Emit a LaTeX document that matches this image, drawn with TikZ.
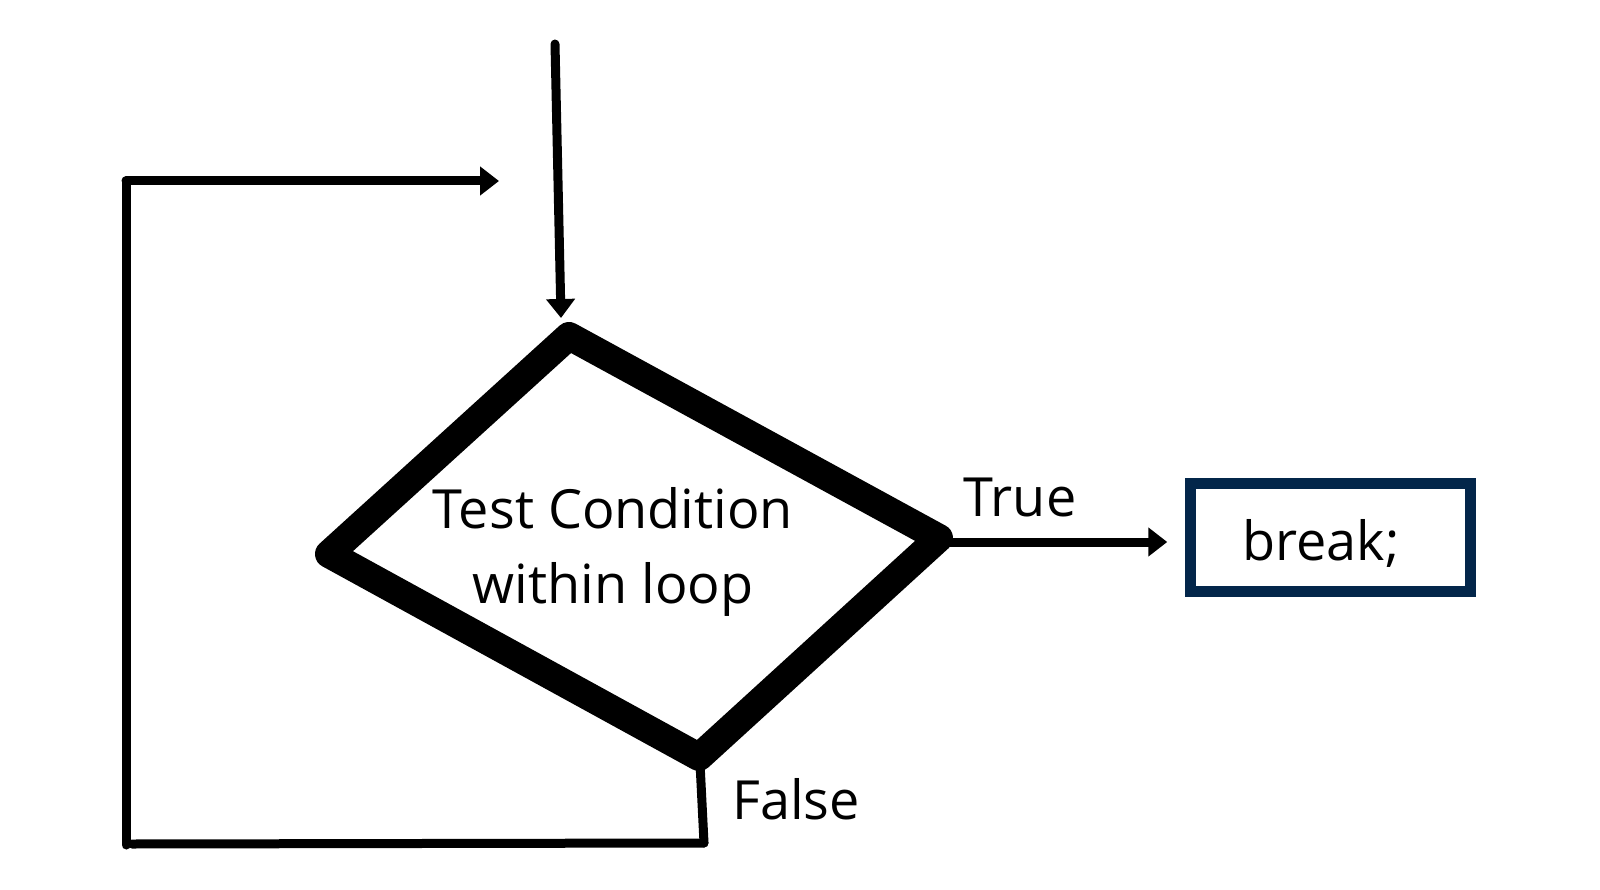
\documentclass[tikz,border=0pt]{standalone}
\usepackage{fontspec}
\setmainfont{Open Sans}
\usetikzlibrary{arrows.meta}
\definecolor{navy}{HTML}{03264A}
\tikzset{
  conn/.style={line width=9pt, line cap=round},
  arr/.style={conn, -{Triangle[length=19pt,width=28pt]}},
  lbl/.style={font=\fontsize{54pt}{75pt}\selectfont, inner sep=0pt, align=center},
  breakbox/.style={draw=navy, line width=10.5pt, minimum width=280pt, minimum height=108pt, inner sep=0pt},
  decision/.style={line width=28pt, line join=round}
}
\begin{document}
\begin{tikzpicture}[x=1pt,y=-1pt]
\useasboundingbox (0,0) rectangle (1600,890);
% diamond vertices
\coordinate (dt) at (569,336);
\coordinate (dl) at (329,554);
\coordinate (dr) at (939,538);
\coordinate (db) at (699,757);
\draw[decision] (dt) -- (dr) -- (db) -- (dl) -- cycle;
\node[lbl] (cond) at (613,552) {Test Condition\\within loop};
% break box
\node[breakbox] (brk) at (1330.5,537.5) {};
\node[lbl] (brktxt) at (1321,543.5) {break;};
% entry arrow
\coordinate (entry) at (555,44);
\coordinate (entrytip) at (561,318);
\draw[arr] (entry) -- (entrytip);
% true arrow
\coordinate (truestart) at (939,542);
\draw[arr, shorten >=18pt] (truestart) -- (truestart -| brk.west);
\node[lbl] (truelbl) at (1020,497) {True};
% false path
\coordinate (fa) at (700,763);
\coordinate (fb) at (704,843);
\coordinate (fc) at (132,844);
\coordinate (fd) at (126,845);
\coordinate (fe) at (126,181);
\coordinate (ff) at (499,181);
\draw[conn] (fa) -- (fb);
\draw[conn] (fb) -- (fc);
\draw[conn] (fd) -- (fe);
\draw[arr] (fe) -- (ff);
\node[lbl] (falselbl) at (796,799) {False};
\end{tikzpicture}
\end{document}
